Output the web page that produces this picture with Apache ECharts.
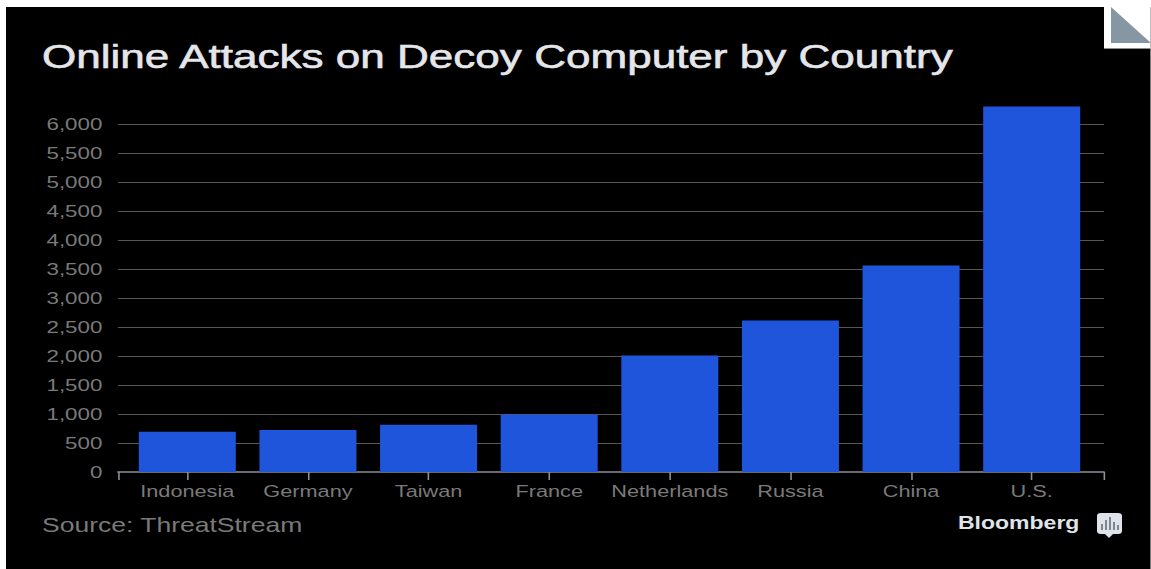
<!DOCTYPE html>
<html>
<head>
<meta charset="utf-8">
<style>
  html, body { margin: 0; padding: 0; background: #ffffff; overflow: hidden; width: 1151px; height: 569px; }
  /* the whole graphic is set wide: a narrower layout widened along x */
  #chart { width: 885.4px; height: 569px; transform: scaleX(1.3); transform-origin: 0 0; }
</style>
<script src="https://cdn.jsdelivr.net/npm/echarts@6/dist/echarts.min.js"></script>
</head>
<body>
<div id="chart"></div>
<script>
// Online attacks on a decoy computer, by country of origin
const categories = ['Indonesia', 'Germany', 'Taiwan', 'France', 'Netherlands', 'Russia', 'China', 'U.S.'];
const attacks = [695, 725, 815, 990, 2010, 2610, 3560, 6300];
const titleText = 'Online Attacks on Decoy Computer by Country';
const sourceText = 'Source: ThreatStream';
const brandText = 'Bloomberg';

const WIDEN = 1.3;
const px = x => x / WIDEN;   // final page x to layout x

const FONT = '"Liberation Sans", sans-serif';
const TEXT_GREY = '#7a7a7a';
const AXIS_GREY = '#8a929a';
const GRID_GREY = '#565656';
const BAR_BLUE = '#1f55da';
const LOGO_LIGHT = '#dfe3ea';
const LOGO_BARS = '#7f8790';

const yScale = { min: 0, max: 6300, interval: 500 };
const plotTop = 106.6, plotHeight = 365.4;

const chart = echarts.init(document.getElementById('chart'), null, { renderer: 'svg' });

// small helper for the filled shapes of the logo and folded corner
const box = (x, y, w, h, fill, z, r) => ({
  type: 'rect', z, shape: { x: px(x), y, width: w / WIDEN, height: h, r: r || 0 }, style: { fill }
});
const poly = (points, fill, z) => ({
  type: 'polygon', z, shape: { points: points.map(p => [px(p[0]), p[1]]) }, style: { fill }
});

chart.setOption({
  backgroundColor: '#ffffff',
  animation: false,
  grid: [
    // outer frame: gridlines, value labels and the baseline
    { left: px(118), width: 986 / WIDEN, top: plotTop, height: plotHeight },
    // inner band that holds the bars
    { left: px(127), width: 965 / WIDEN, top: plotTop, height: plotHeight }
  ],
  xAxis: [
    {
      type: 'value', gridIndex: 0, min: 0, max: 1, interval: 1,
      axisLine: { show: true, lineStyle: { color: AXIS_GREY, width: 1.5 } },
      axisTick: { show: true, length: 8, lineStyle: { color: AXIS_GREY, width: 1.2 } },
      axisLabel: { show: false },
      splitLine: { show: false }
    },
    {
      type: 'category', gridIndex: 1, data: categories,
      axisLine: { show: false },
      axisTick: { show: true, interval: 0, alignWithLabel: true, length: 8, lineStyle: { color: AXIS_GREY, width: 1.2 } },
      axisLabel: { interval: 0, color: TEXT_GREY, fontFamily: FONT, fontSize: 16.7, margin: 10 },
      splitLine: { show: false }
    }
  ],
  yAxis: [
    {
      type: 'value', gridIndex: 0, ...yScale,
      axisLine: { show: false },
      axisTick: { show: false },
      axisLabel: {
        color: TEXT_GREY, fontFamily: FONT, fontSize: 17.2, margin: 12, showMaxLabel: false,
        padding: [2, 0, 0, 0],
        formatter: v => v.toLocaleString('en-US')
      },
      splitLine: { show: true, showMinLine: false, showMaxLine: false, lineStyle: { color: GRID_GREY, width: 1 } }
    },
    {
      type: 'value', gridIndex: 1, ...yScale, show: false, splitLine: { show: false }
    }
  ],
  series: [{
    type: 'bar',
    xAxisIndex: 1,
    yAxisIndex: 1,
    data: attacks,
    barWidth: 97 / WIDEN,
    z: 5,
    itemStyle: { color: BAR_BLUE }
  }],
  graphic: [
    // black panel behind everything
    box(6, 7, 1145, 562, '#000000', -100),
    // folded corner
    box(1104, 7, 47, 42, '#ffffff', 50),
    box(1104, 48, 47, 1, '#8c8c8c', 50),
    poly([[1111, 7], [1151, 43], [1111, 43]], '#8796a3', 51),
    // heading
    {
      type: 'text', z: 60, x: px(42), y: 39,
      style: { text: titleText, fill: '#e4e6ea', stroke: '#e4e6ea', lineWidth: 0.6, font: '33.9px ' + FONT }
    },
    // source line
    {
      type: 'text', z: 60, x: px(42), y: 515,
      style: { text: sourceText, fill: TEXT_GREY, font: '20.4px ' + FONT }
    },
    // brand mark
    {
      type: 'text', z: 60, x: px(958), y: 514,
      style: { text: brandText, fill: LOGO_LIGHT, font: 'bold 17.7px ' + FONT }
    },
    box(1097, 513, 25, 21, LOGO_LIGHT, 60, 3),
    poly([[1105, 534], [1113, 534], [1109, 538]], LOGO_LIGHT, 60),
    box(1101, 524, 2, 6, LOGO_BARS, 61),
    box(1105, 520, 2, 10, LOGO_BARS, 61),
    box(1109, 517, 2, 13, LOGO_BARS, 61),
    box(1113, 522, 2, 8, LOGO_BARS, 61),
    box(1117, 525, 2, 5, LOGO_BARS, 61)
  ]
});
</script>
</body>
</html>
